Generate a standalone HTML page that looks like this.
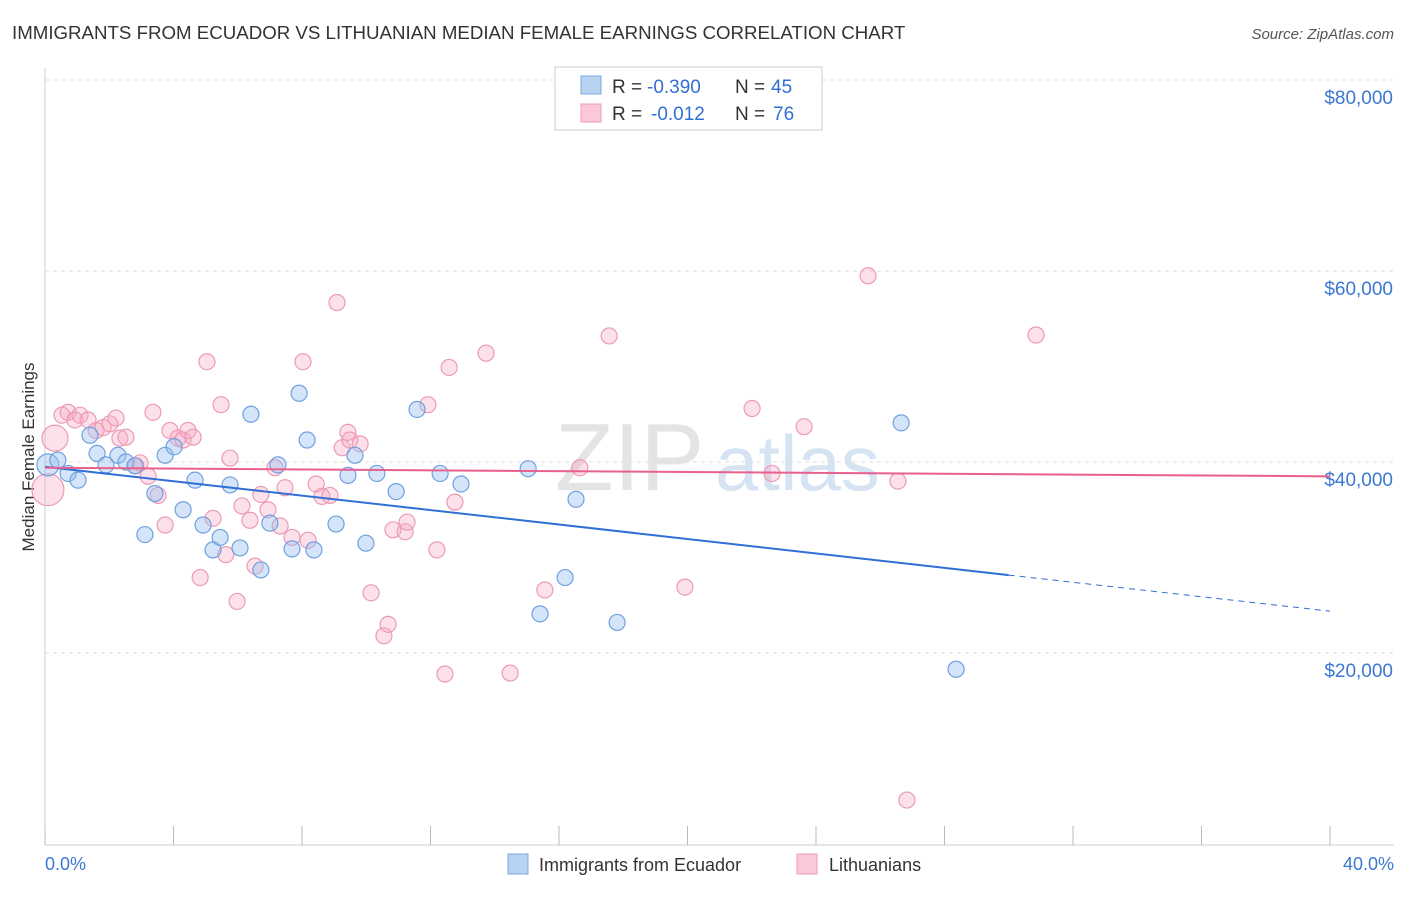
<!DOCTYPE html>
<html><head><meta charset="utf-8"><style>
body{margin:0;background:#fff;font-family:"Liberation Sans",sans-serif;}
svg text{font-family:"Liberation Sans",sans-serif;}
</style></head><body>
<svg id="chart" width="1406" height="892" xmlns="http://www.w3.org/2000/svg">
<text x="12" y="39" font-size="18.7" fill="#333">IMMIGRANTS FROM ECUADOR VS LITHUANIAN MEDIAN FEMALE EARNINGS CORRELATION CHART</text>
<text x="1394" y="39" font-size="15" fill="#555" text-anchor="end" font-style="italic">Source: ZipAtlas.com</text>
<text transform="translate(34,457) rotate(-90)" font-size="17" fill="#333" text-anchor="middle">Median Female Earnings</text>
<text x="555" y="490" font-size="96" fill="#e4e4e4" font-family="Liberation Serif">ZIP</text>
<text x="715" y="490" font-size="78" fill="#d6e3f3">atlas</text>
<g id="grid"></g><g id="marks"></g>
<g>
<rect x="555" y="67" width="267" height="63" fill="#fff" stroke="#ccc"/>
<rect x="581" y="76" width="20" height="18" fill="#b8d2f2" stroke="#7fa8e0"/>
<rect x="581" y="104" width="20" height="18" fill="#fbc8d8" stroke="#ec9ab6"/>
<text x="612" y="93" font-size="19" fill="#333">R =</text>
<text x="647" y="93" font-size="19" fill="#2f6fd6">-0.390</text>
<text x="735" y="93" font-size="19" fill="#333">N =</text>
<text x="771" y="93" font-size="19" fill="#2f6fd6">45</text>
<text x="612" y="120" font-size="19" fill="#333">R =</text>
<text x="651" y="120" font-size="19" fill="#2f6fd6">-0.012</text>
<text x="735" y="120" font-size="19" fill="#333">N =</text>
<text x="773" y="120" font-size="19" fill="#2f6fd6">76</text>
</g>
<g>
<rect x="508" y="854" width="20" height="20" fill="#b8d2f2" stroke="#7fa8e0"/>
<text x="539" y="871" font-size="18" fill="#333">Immigrants from Ecuador</text>
<rect x="797" y="854" width="20" height="20" fill="#fbc8d8" stroke="#ec9ab6"/>
<text x="829" y="871" font-size="18" fill="#333">Lithuanians</text>
</g>
<text x="45" y="870" font-size="18" fill="#3a78d4">0.0%</text>
<text x="1394" y="870" font-size="18" fill="#3a78d4" text-anchor="end">40.0%</text>
</svg>
<script>
const yTicks=[20000,40000,60000,80000];
const yTickLabels=["$20,000","$40,000","$60,000","$80,000"];
const xTicks=[0,4,8,12,16,20,24,28,32,36,40];
const ecuadorX=[0.09,0.40,0.72,1.03,1.40,1.62,1.90,2.27,2.52,2.80,3.11,3.42,3.74,4.02,4.30,4.67,4.92,5.23,5.45,5.76,6.07,6.41,6.72,7.00,7.25,7.69,7.91,8.16,8.37,9.06,9.43,9.65,9.99,10.33,10.93,11.58,12.30,12.95,15.04,15.41,16.19,16.53,17.81,26.65,28.36];
const ecuadorY=[39700,40200,38800,38100,42800,40900,39700,40700,40000,39600,32400,36700,40700,41600,35000,38100,33400,30800,32100,37600,31000,45000,28700,33600,39700,30900,47200,42300,30800,33500,38600,40700,31500,38800,36900,45500,38800,37700,39300,24100,27900,36100,23200,44100,18300];
const lithX=[0.09,0.31,0.53,0.72,0.93,1.09,1.34,1.59,1.81,2.02,2.21,2.33,2.52,2.83,2.96,3.21,3.36,3.52,3.74,3.89,4.14,4.30,4.45,4.61,4.83,5.04,5.23,5.48,5.63,5.76,5.98,6.13,6.38,6.54,6.72,6.94,7.16,7.32,7.47,7.69,8.03,8.19,8.44,8.62,8.87,9.09,9.25,9.43,9.49,9.81,10.15,10.55,10.68,10.83,11.21,11.27,11.92,12.20,12.45,12.58,12.76,13.73,14.48,15.56,16.65,17.56,19.92,20.70,22.01,22.63,23.63,25.62,26.55,26.83,30.85];
const lithY=[37100,42500,44900,45200,44400,44900,44400,43300,43600,44000,44600,42500,42600,39600,39900,38500,45200,36500,33400,43300,42500,42300,43300,42600,27900,50500,34100,46000,30300,40400,25400,35400,33900,29100,36600,35000,39400,33300,37300,32100,50500,31800,37700,36400,36500,56700,41500,43100,42300,41900,26300,21800,23000,32900,32700,33700,46000,30800,17800,49900,35800,51400,17900,26600,39400,53200,26900,78400,45600,38800,43700,59500,38000,4600,53300];
const ecuadorTrend=[39500,-0.378];
const lithTrend=[39400,-0.0225];
const NS="http://www.w3.org/2000/svg";
const X=v=>45+v/40*1285, Y=v=>844-v/20000*191;
function mk(t,a,p){const e=document.createElementNS(NS,t);for(const k in a)e.setAttribute(k,a[k]);p.appendChild(e);return e;}
const grid=document.getElementById('grid'),marks=document.getElementById('marks');
mk('line',{x1:45,y1:68,x2:45,y2:845,stroke:'#ccc'},grid);
mk('line',{x1:45,y1:845,x2:1394,y2:845,stroke:'#ccc'},grid);
yTicks.forEach((t,i)=>{
 const g=mk('line',{x1:45,y1:Y(t),x2:1394,y2:Y(t),stroke:'#ddd','stroke-dasharray':'4,4'},grid);
 
 
 const tx=mk('text',{x:1393,y:Y(t)+24,'font-size':19,fill:'#3a78d4','text-anchor':'end'},grid);
 tx.textContent=yTickLabels[i];
 
 
});
xTicks.forEach(t=>{
 const l=mk('line',{x1:X(t),y1:826,x2:X(t),y2:845,stroke:'#bbb'},grid);
 
 
});
lithX.forEach((x,i)=>{
 const r=i===0?16:(i===1?13:8);
 const c=mk('circle',{cx:X(x),cy:Y(lithY[i]),r:r,fill:'rgba(245,170,195,0.35)',stroke:'#ec9ab6','stroke-width':1.2},marks);
 
 
});
ecuadorX.forEach((x,i)=>{
 const c=mk('circle',{cx:X(x),cy:Y(ecuadorY[i]),r:i<1?11:8,fill:'rgba(150,190,240,0.4)',stroke:'#6fa0e0','stroke-width':1.2},marks);
 
 
});
const ey=x=>ecuadorTrend[0]+ecuadorTrend[1]*x*1000;
const b1=mk('line',{x1:X(0),y1:Y(ey(0)),x2:X(30),y2:Y(ey(30)),stroke:'#2f6fd6','stroke-width':2},marks);


const b2=mk('line',{x1:X(30),y1:Y(ey(30)),x2:X(40),y2:Y(ey(40)),stroke:'#2f6fd6','stroke-width':1,'stroke-dasharray':'6,5'},marks);


const ly=x=>lithTrend[0]+lithTrend[1]*x*1000;
const p1=mk('line',{x1:X(0),y1:Y(ly(0)),x2:X(40),y2:Y(ly(40)),stroke:'#e8608e','stroke-width':2},marks);


</script>
</body></html>
